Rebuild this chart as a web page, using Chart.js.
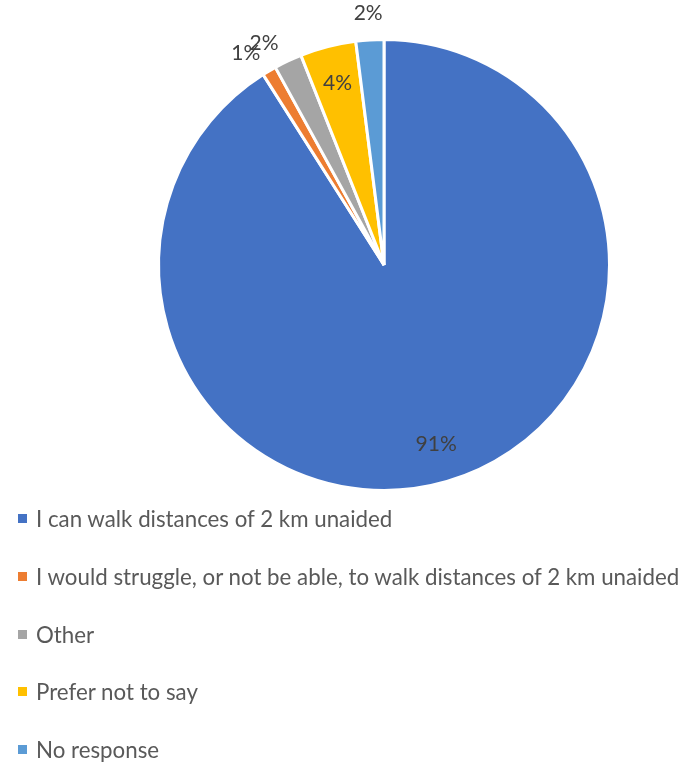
<!DOCTYPE html>
<html>
<head>
<meta charset="utf-8">
<script src="https://cdn.jsdelivr.net/npm/chart.js@4/dist/chart.umd.min.js"></script>
<style>
  body { margin: 0; background: #fff; font-family: Lato, "Open Sans", sans-serif; }
  #wrap { position: relative; width: 684px; height: 765px; }
  #chartBox { position: absolute; left: 0; top: 0; width: 684px; height: 500px; }
  #legend { position: absolute; left: 0; top: 490px; margin: 0; padding: 0; list-style: none; }
  #legend li { display: flex; align-items: center; height: 57.7px; color: #595959; font-size: 22.3px; white-space: nowrap; }
  #legend .box { width: 9px; height: 9px; margin-left: 18px; margin-right: 9px; }
</style>
</head>
<body>
<div id="wrap">
  <div id="chartBox"><canvas id="walkChart"></canvas></div>
  <ul id="legend"></ul>
</div>
<script>
// Responses (percent of respondents)
const categories = [
  'I can walk distances of 2 km unaided',
  'I would struggle, or not be able, to walk distances of 2 km unaided',
  'Other',
  'Prefer not to say',
  'No response'
];
const shares = [91, 1, 2, 4, 2];
const sliceColors = ['#4472C4', '#ED7D31', '#A5A5A5', '#FFC000', '#5B9BD5'];
// which labels sit inside their slice
const labelInside = [true, false, false, true, false];
// small angular nudge (radians, negative = anticlockwise) so the crowded labels don't collide
const labelNudge = [0, -0.045, -0.055, 0, 0];

// draws the percentage next to / inside each slice
const sliceLabels = {
  id: 'sliceLabels',
  afterDatasetsDraw(chart) {
    const ctx = chart.ctx;
    const meta = chart.getDatasetMeta(0);
    const data = chart.data.datasets[0].data;
    const total = data.reduce((a, b) => a + b, 0);
    ctx.save();
    ctx.font = '21px Lato, "Open Sans", sans-serif';
    ctx.fillStyle = '#404040';
    ctx.textAlign = 'center';
    ctx.textBaseline = 'middle';
    meta.data.forEach((arc, i) => {
      const p = arc.getProps(['x', 'y', 'startAngle', 'endAngle', 'outerRadius'], true);
      const mid = (p.startAngle + p.endAngle) / 2 + labelNudge[i];
      const r = labelInside[i] ? p.outerRadius * 0.83 : p.outerRadius + 27;
      const x = p.x + Math.cos(mid) * r;
      const y = p.y + Math.sin(mid) * r;
      ctx.fillText(Math.round(data[i] / total * 100) + '%', x, y);
    });
    ctx.restore();
  }
};

// legend built from the chart's own items
const htmlLegend = {
  id: 'htmlLegend',
  afterUpdate(chart) {
    const list = document.getElementById('legend');
    list.innerHTML = '';
    const items = chart.options.plugins.legend.labels.generateLabels(chart);
    items.forEach(item => {
      const li = document.createElement('li');
      const box = document.createElement('span');
      box.className = 'box';
      box.style.background = item.fillStyle;
      const text = document.createElement('span');
      text.textContent = item.text;
      li.appendChild(box);
      li.appendChild(text);
      list.appendChild(li);
    });
  }
};

const ctx = document.getElementById('walkChart').getContext('2d');
new Chart(ctx, {
  type: 'pie',
  data: {
    labels: categories,
    datasets: [{
      data: shares,
      backgroundColor: sliceColors,
      borderColor: '#ffffff',
      borderWidth: 3
    }]
  },
  options: {
    responsive: true,
    maintainAspectRatio: false,
    animation: false,
    layout: {
      padding: { top: 38, bottom: 8, left: 157, right: 73 }
    },
    plugins: {
      legend: { display: false },
      tooltip: { enabled: false }
    }
  },
  plugins: [sliceLabels, htmlLegend]
});
</script>
</body>
</html>
